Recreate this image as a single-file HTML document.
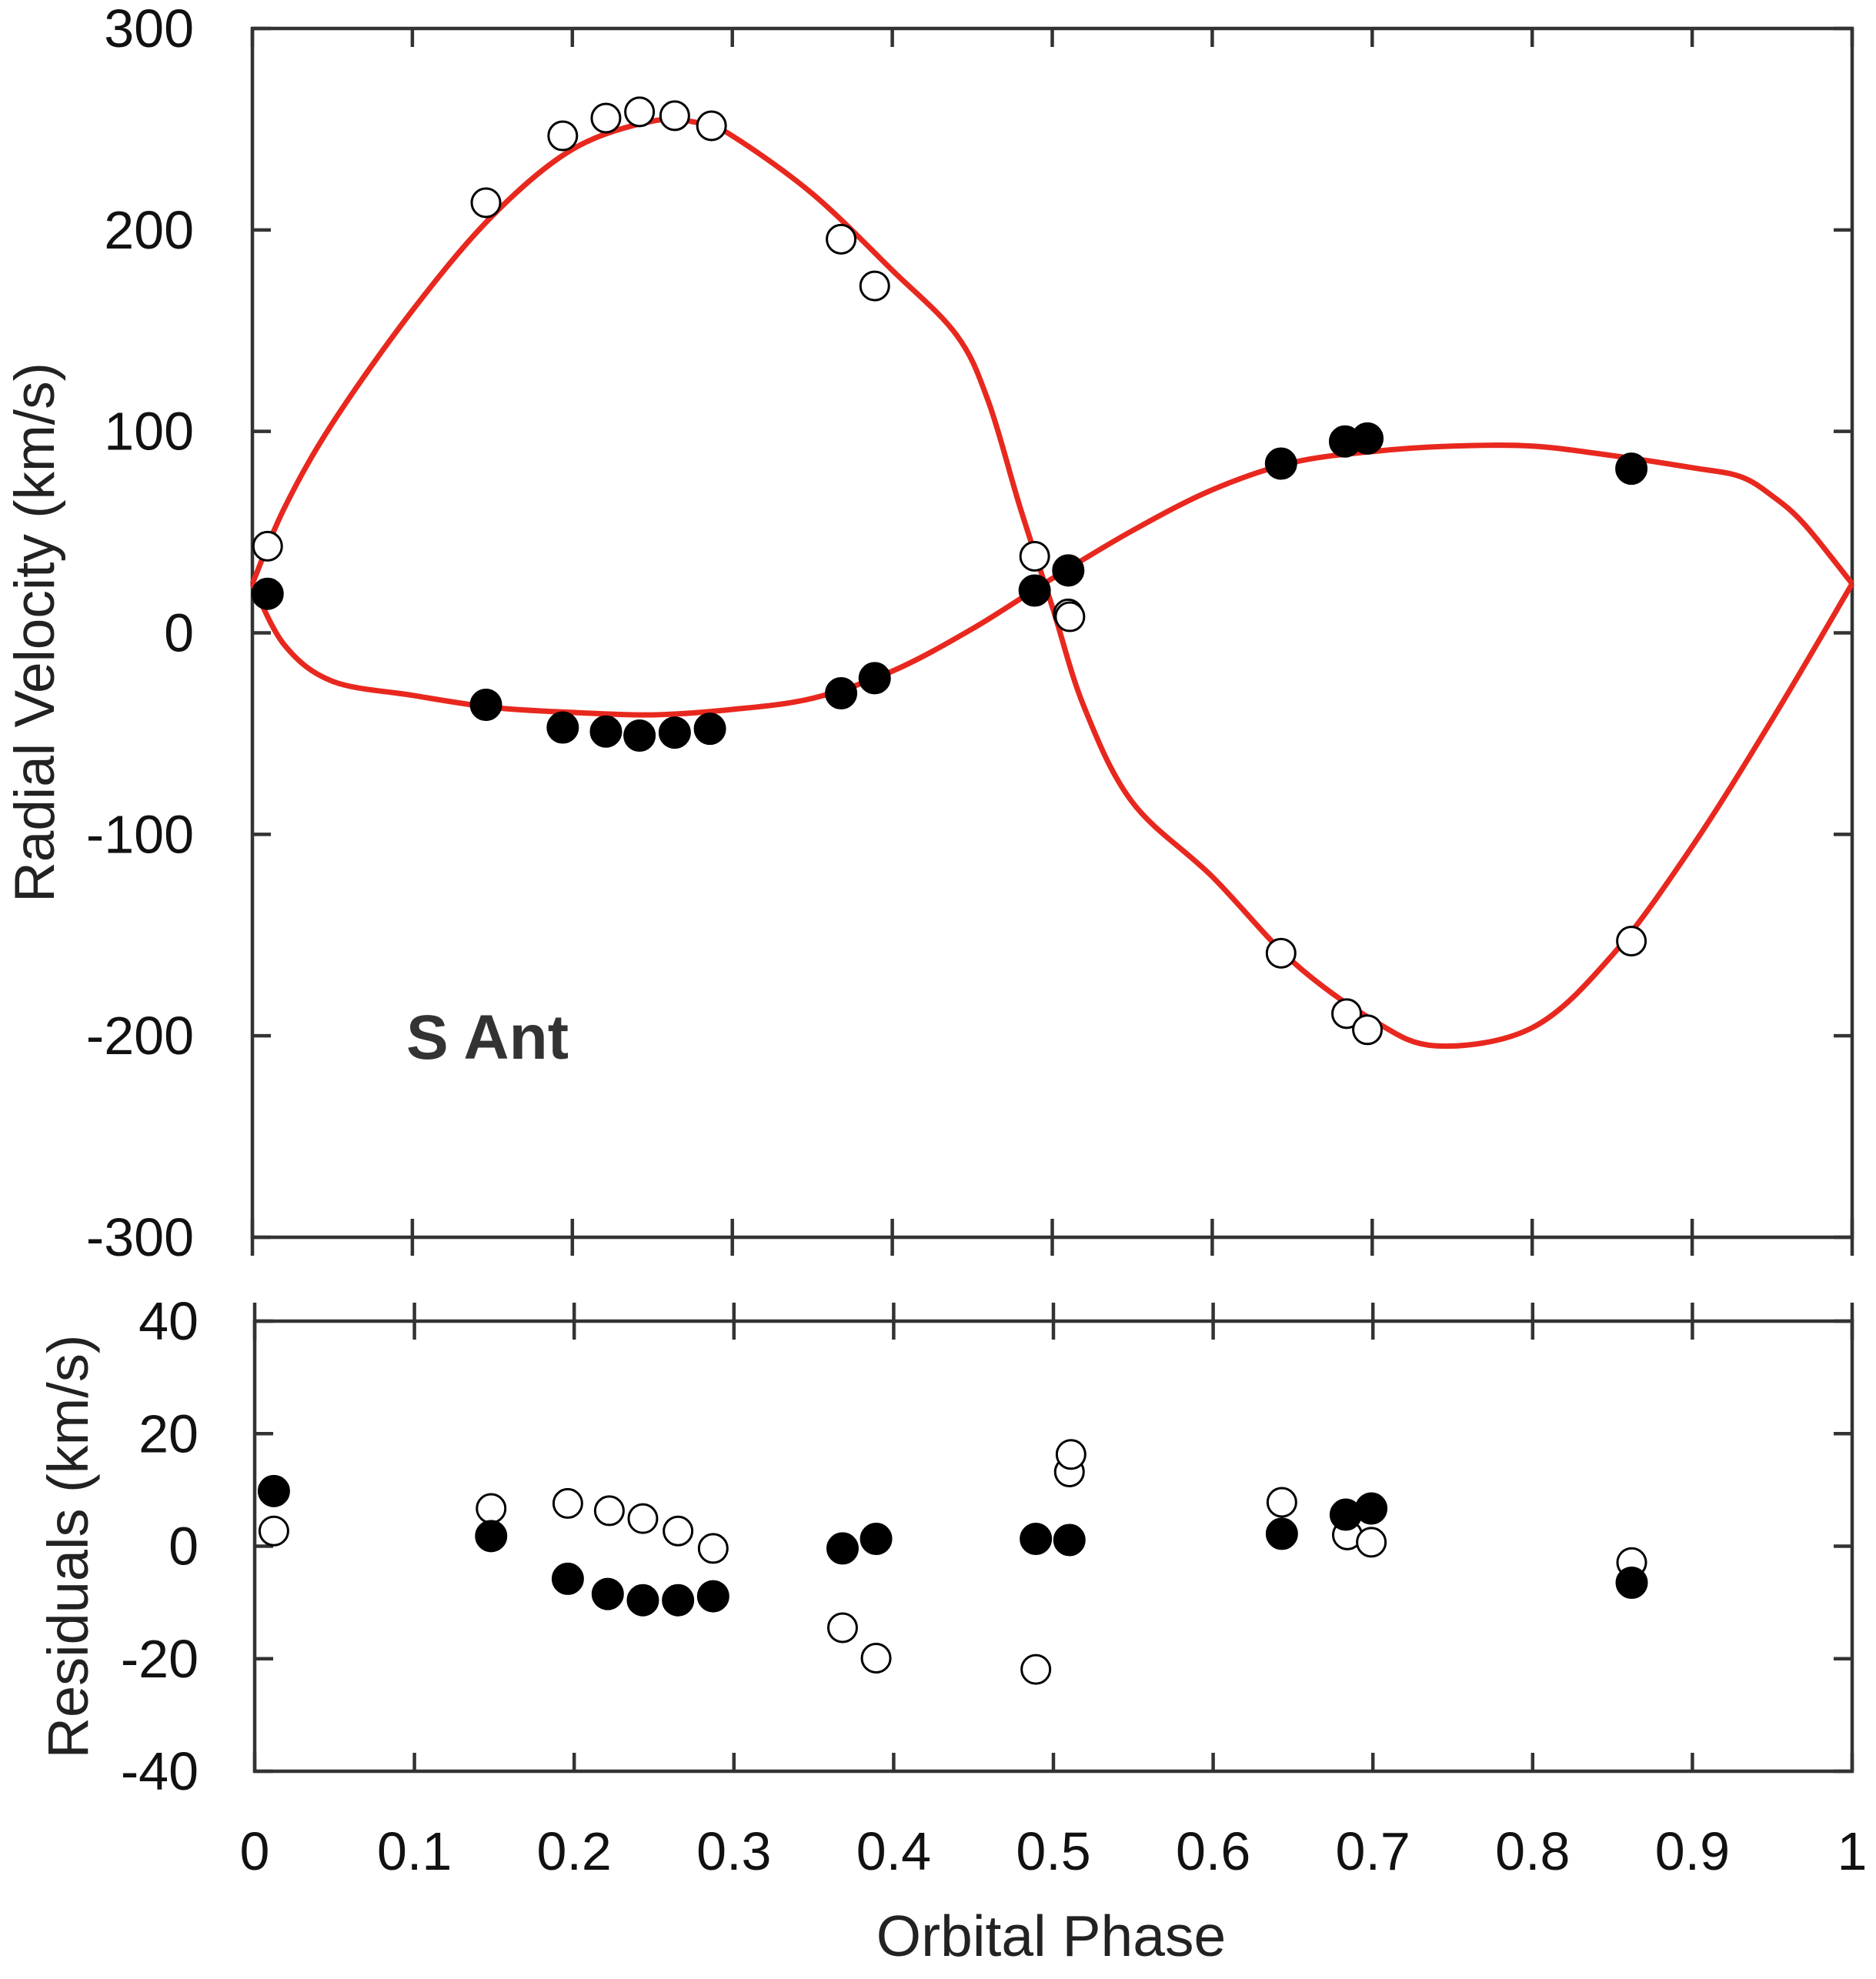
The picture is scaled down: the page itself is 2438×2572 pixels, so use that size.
<!DOCTYPE html>
<html><head><meta charset="utf-8"><style>
html,body{margin:0;padding:0;background:#fff;}
svg{display:block;font-family:"Liberation Sans",sans-serif;}
</style></head><body>
<svg id="chart" width="2438" height="2572" viewBox="0 0 2438 2572" xmlns="http://www.w3.org/2000/svg"></svg>
<script>
const primPhase=[0.0095,0.146,0.194,0.221,0.242,0.264,0.286,0.368,0.389,0.489,0.510,0.643,0.683,0.697,0.862];
const primRV=[19.4,-35.7,-47,-49,-51,-49.5,-47.6,-30,-22.5,21,31,84,95,96.5,81.5];
const secPhase=[0.0095,0.146,0.194,0.221,0.242,0.264,0.287,0.368,0.389,0.489,0.510,0.511,0.643,0.684,0.697,0.862];
const secRV=[43,213.5,246.7,255.5,258.6,256.7,251.7,195.4,172.2,38,9.4,8,-159,-189,-197,-153];
const primResPhase=[0.012,0.148,0.196,0.221,0.243,0.265,0.287,0.368,0.389,0.489,0.510,0.643,0.683,0.699,0.862];
const primRes=[9.8,1.8,-5.8,-8.5,-9.6,-9.6,-8.9,-0.4,1.3,1.3,1.1,2.2,5.6,6.7,-6.5];
const secResPhase=[0.012,0.148,0.196,0.222,0.243,0.265,0.287,0.368,0.389,0.489,0.510,0.511,0.643,0.684,0.699,0.862];
const secRes=[2.7,6.7,7.6,6.3,4.9,2.7,-0.4,-14.5,-19.9,-21.9,13.2,16.3,7.8,2,0.7,-2.9];
const primFitPhase=[0,0.02,0.05,0.1,0.15,0.2,0.25,0.3,0.35,0.4,0.45,0.5,0.55,0.6,0.65,0.7,0.75,0.8,0.85,0.9,0.93,0.95,0.97,1.0];
const primFit=[24.4,-6,-24,-31,-37,-39.5,-40.7,-38,-32.5,-19,2,27,50.7,71,84.5,90,92.7,92.7,88,82,77.6,68,54,24.4];
const secFitPhase=[0,0.02,0.05,0.1,0.15,0.2,0.25,0.28,0.3,0.35,0.4,0.44,0.46,0.48,0.5,0.52,0.55,0.6,0.65,0.7,0.74,0.8,0.85,0.9,0.95,1.0];
const secFit=[24.4,62,104,160,207,240,254,253,246.7,218,180,148,115,62,13,-37,-84,-121,-163,-192,-205,-196,-160,-106,-43,24.4];
const xTicks=[0,0.1,0.2,0.3,0.4,0.5,0.6,0.7,0.8,0.9,1];
const xTickLabels=["0","0.1","0.2","0.3","0.4","0.5","0.6","0.7","0.8","0.9","1"];
const yTicks=[300,200,100,0,-100,-200,-300];
const yTickLabels=["300","200","100","0","-100","-200","-300"];
const rTicks=[40,20,0,-20,-40];
const rTickLabels=["40","20","0","-20","-40"];

const NS="http://www.w3.org/2000/svg";
const svg=document.getElementById('chart');
const X0=328,X1=2407,T0=37,T1=1608,R0=1717,R1=2302;
const px=p=>X0+p*(X1-X0);
const pxR=p=>331+p*(X1-331);
const py=v=>T0+(300-v)/600*(T1-T0);
const ry=v=>R0+(40-v)/80*(R1-R0);
function mk(tag,attrs,parent){const e=document.createElementNS(NS,tag);for(const k in attrs)e.setAttribute(k,attrs[k]);(parent||svg).appendChild(e);return e;}
const AX='#333';

let f1=mk('rect',{x:X0,y:T0,width:X1-X0,height:T1-T0,fill:'none',stroke:AX,'stroke-width':4.5});


let f2=mk('rect',{x:331,y:R0,width:X1-331,height:R1-R0,fill:'none',stroke:AX,'stroke-width':4.5});



xTicks.forEach((t,i)=>{
  [[px(t),T0,T0+24],[px(t),T1-24,T1+24],[pxR(t),R0-24,R0+24],[pxR(t),R1-24,R1]].forEach(a=>{
    let l=mk('line',{x1:a[0],x2:a[0],y1:a[1],y2:a[2],stroke:AX,'stroke-width':4.5});
    
    
  });
  let tx=mk('text',{x:pxR(t),y:2430,'font-size':70,'text-anchor':'middle',fill:'#111'});
  tx.textContent=xTickLabels[i];
  
  
});
yTicks.forEach((v,i)=>{
  [[X0,X0+24],[X1-24,X1]].forEach(a=>{
    let l=mk('line',{x1:a[0],x2:a[1],y1:py(v),y2:py(v),stroke:AX,'stroke-width':4.5});
    
    
  });
  let tx=mk('text',{x:252,y:py(v)+24,'font-size':70,'text-anchor':'end',fill:'#111'});
  tx.textContent=yTickLabels[i];
  
  
});
rTicks.forEach((v,i)=>{
  [[331,355],[X1-24,X1]].forEach(a=>{
    let l=mk('line',{x1:a[0],x2:a[1],y1:ry(v),y2:ry(v),stroke:AX,'stroke-width':4.5});
    
    
  });
  let tx=mk('text',{x:258,y:ry(v)+24,'font-size':70,'text-anchor':'end',fill:'#111'});
  tx.textContent=rTickLabels[i];
  
  
});

function curve(ps,vs,name){
  const pts=ps.map((p,i)=>[px(p),py(vs[i])]);
  let d='M'+pts[0][0]+','+pts[0][1];
  for(let i=0;i<pts.length-1;i++){
    const p0=pts[Math.max(0,i-1)],p1=pts[i],p2=pts[i+1],p3=pts[Math.min(pts.length-1,i+2)];
    const c1=[p1[0]+(p2[0]-p0[0])/6,p1[1]+(p2[1]-p0[1])/6];
    const c2=[p2[0]-(p3[0]-p1[0])/6,p2[1]-(p3[1]-p1[1])/6];
    d+=' C'+c1[0]+','+c1[1]+' '+c2[0]+','+c2[1]+' '+p2[0]+','+p2[1];
  }
  let e=mk('path',{d:d,fill:'none',stroke:'#e8281e','stroke-width':7,'stroke-linejoin':'round'});
  
  
}
curve(primFitPhase,primFit,'primary-fit-curve');
curve(secFitPhase,secFit,'secondary-fit-curve');

function pts(ps,vs,xf,yf,filled,name){
  ps.forEach((p,i)=>{
    let c=mk('circle',{cx:xf(p),cy:yf(vs[i]),r:filled?19.5:18.5,fill:filled?'#000':'#fff',stroke:'#000','stroke-width':3});
    
    
  });
}
pts(secPhase,secRV,px,py,false,'secondary-rv-point');
pts(primPhase,primRV,px,py,true,'primary-rv-point');
pts(secResPhase,secRes,pxR,ry,false,'secondary-residual-point');
pts(primResPhase,primRes,pxR,ry,true,'primary-residual-point');

let t;
t=mk('text',{x:0,y:0,'font-size':73,'text-anchor':'middle',fill:'#222',transform:'translate(70,822) rotate(-90)'});
t.textContent='Radial Velocity (km/s)';


t=mk('text',{x:0,y:0,'font-size':74,'text-anchor':'middle',fill:'#222',transform:'translate(114,2010) rotate(-90)'});
t.textContent='Residuals (km/s)';


t=mk('text',{x:1366,y:2542,'font-size':75,'text-anchor':'middle',fill:'#222'});
t.textContent='Orbital Phase';


t=mk('text',{x:528,y:1376,'font-size':82,'font-weight':'bold',fill:'#333'});
t.textContent='S Ant';


</script>
</body></html>
